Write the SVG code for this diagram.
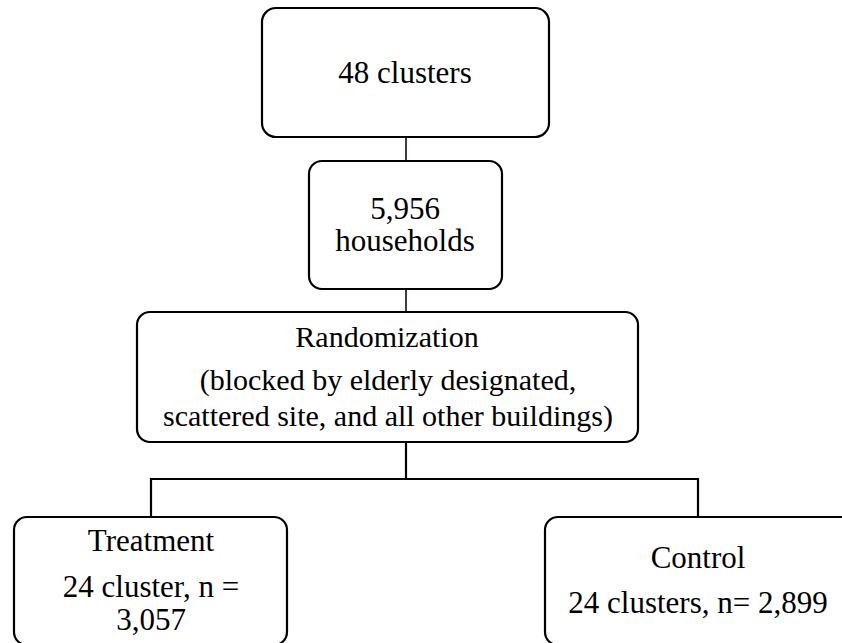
<svg xmlns="http://www.w3.org/2000/svg" width="842" height="643" viewBox="0 0 842 643">
  <style>
    .box { fill: #ffffff; stroke: #000000; stroke-width: 2.2; }
    .lbl { font-family: "Liberation Serif", "Times New Roman", serif; font-size: 31px; fill: #000000; text-anchor: middle; }
    .small { font-size: 30px; }
    .link { fill: none; stroke: #000000; stroke-width: 2.2; }
    .link-soft { fill: none; stroke: #3a3a4c; stroke-width: 2; }
  </style>
  <rect width="842" height="643" fill="#ffffff"/>

  <!-- connectors -->
  <g id="connectors">
    <line class="link-soft" x1="406" y1="137" x2="406" y2="161"/>
    <line class="link-soft" x1="406" y1="289" x2="406" y2="312"/>
    <polyline class="link" points="406,442 406,479"/>
    <polyline class="link" points="151,517 151,479 698,479 698,517"/>
  </g>

  <!-- nodes -->
  <g id="clusters">
    <rect class="box" x="262" y="8" width="287" height="129" rx="14"/>
    <text class="lbl" x="405" y="83">48 clusters</text>
  </g>

  <g id="households">
    <rect class="box" x="309" y="161" width="193" height="128" rx="13"/>
    <text class="lbl" x="405" y="219">5,956</text>
    <text class="lbl" x="405" y="251">households</text>
  </g>

  <g id="randomization">
    <rect class="box" x="137" y="312" width="501" height="130" rx="13"/>
    <text class="lbl small" x="387" y="347">Randomization</text>
    <text class="lbl small" x="388" y="390">(blocked by elderly designated,</text>
    <text class="lbl small" x="388" y="426">scattered site, and all other buildings)</text>
  </g>

  <!-- bottom boxes run just past the lower edge -->
  <g id="treatment">
    <rect class="box" x="14" y="517" width="273" height="128" rx="13"/>
    <text class="lbl" x="151" y="551">Treatment</text>
    <text class="lbl" x="151" y="597">24 cluster, n =</text>
    <text class="lbl" x="151" y="630">3,057</text>
  </g>

  <g id="control">
    <rect class="box" x="545" y="517" width="320" height="128" rx="13"/>
    <text class="lbl" x="698" y="568">Control</text>
    <text class="lbl" x="698" y="613">24 clusters, n= 2,899</text>
  </g>
</svg>
